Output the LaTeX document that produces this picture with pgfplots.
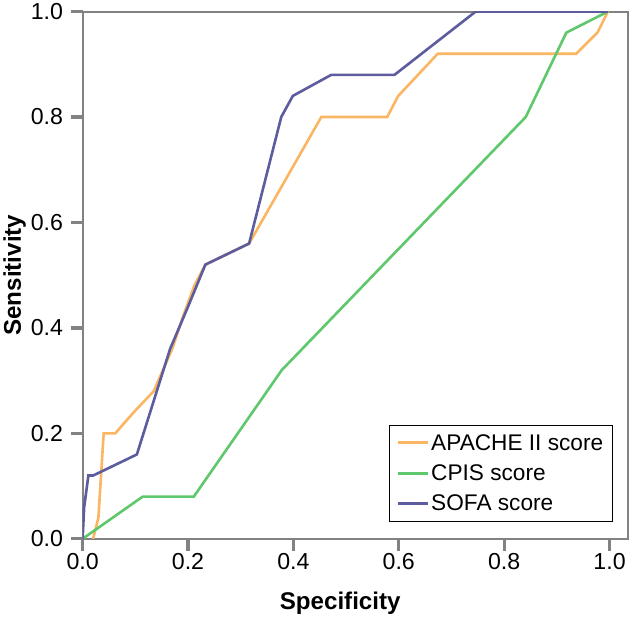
\documentclass[border=0pt]{standalone}
\usepackage{pgfplots}
\pgfplotsset{compat=1.18}
\usepackage{fontspec}
\setmainfont{Liberation Sans}
\definecolor{cA}{RGB}{250,182,98}
\definecolor{cB}{RGB}{96,200,108}
\definecolor{cC}{RGB}{92,92,158}
\definecolor{axgray}{RGB}{130,130,130}
\begin{document}
\begin{tikzpicture}
\begin{axis}[
  scale only axis,
  width=542pt, height=524pt,
  xmin=0, xmax=1.035, ymin=0, ymax=1,
  xtick={0,0.2,0.4,0.6,0.8,1.0},
  ytick={0,0.2,0.4,0.6,0.8,1.0},
  xticklabels={0.0,0.2,0.4,0.6,0.8,1.0},
  yticklabels={0.0,0.2,0.4,0.6,0.8,1.0},
  tick align=outside,
  major tick length=12pt,
  xtick pos=left, ytick pos=left,
  every tick/.style={axgray, line width=3.2pt},
  axis line style={axgray, line width=2pt},
  tick label style={font=\fontsize{23}{27}\selectfont, black},
  xticklabel style={yshift=1pt},
  yticklabel style={xshift=-4pt},
  xlabel={\textbf{Specificity}},
  ylabel={\textbf{Sensitivity}},
  label style={font=\fontsize{24}{28}\selectfont},
  xlabel style={xshift=-15pt, yshift=-15pt},
  ylabel style={yshift=-2pt},
  legend style={at={(axis cs:1.006,0.032)}, anchor=south east,
    draw=black, line width=0.9pt, font=\fontsize{22.5}{27}\selectfont,
    row sep=9pt, inner xsep=7pt, inner ysep=7pt},
  legend cell align=left,
  legend image code/.code={\draw[#1, line width=3pt] plot coordinates {(0pt,0pt) (30pt,0pt)};},
]
\addplot[color=cA, line width=2.6pt] coordinates {
(0.02,0) (0.03,0.04) (0.04,0.2) (0.062,0.2) (0.097,0.24) (0.135,0.28)
(0.17,0.36) (0.19,0.42) (0.212,0.48) (0.233,0.52) (0.316,0.56)
(0.453,0.80) (0.578,0.80) (0.599,0.84) (0.674,0.92) (0.937,0.92)
(0.977,0.96) (0.997,1.0)};
\addlegendentry{APACHE II score}
\addplot[color=cB, line width=2.6pt] coordinates {
(0,0) (0.114,0.08) (0.211,0.08) (0.378,0.32) (0.841,0.80) (0.918,0.96) (0.997,1.0)};
\addlegendentry{CPIS score}
\addplot[color=cC, line width=2.6pt] coordinates {
(0,0) (0.003,0.06) (0.011,0.12) (0.02,0.12) (0.103,0.16) (0.166,0.36)
(0.2,0.44) (0.233,0.52) (0.316,0.56) (0.377,0.80) (0.399,0.84)
(0.472,0.88) (0.592,0.88) (0.746,1.0) (0.997,1.0)};
\addlegendentry{SOFA score}
\end{axis}
\path ([xshift=4pt]current axis.east);
\end{tikzpicture}
\end{document}
